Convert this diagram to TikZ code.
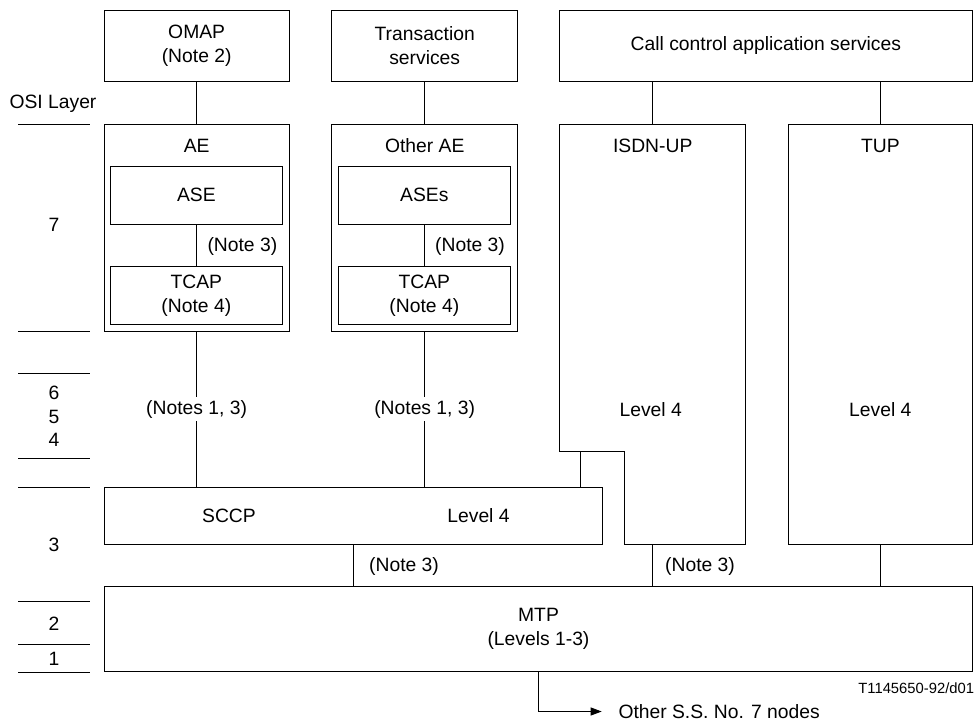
\documentclass[tikz,border=0pt]{standalone}
\usepackage{fontspec}
\setmainfont{Liberation Sans}
\usetikzlibrary{arrows.meta}
\newcommand\mainfs{\fontsize{19.3pt}{24pt}\selectfont}
\newcommand\smallfs{\fontsize{14.8pt}{17pt}\selectfont}
\tikzset{
  box/.style={draw, line width=0.9pt, inner sep=0pt, align=center, font=\mainfs},
  lbl/.style={inner sep=0pt, align=center, font=\mainfs},
  conn/.style={line width=1.2pt},
  layerline/.style={line width=0.9pt},
  gaplbl/.style={lbl, fill=white, inner sep=3pt},
}
\begin{document}
\begin{tikzpicture}[x=1pt, y=-1pt]
\useasboundingbox (0,0) rectangle (976,722);

% OSI layer scale on the left
\foreach \yy in {124.3,331,373.3,458.3,487.3,601.7,644.3,672.3}
  \draw[layerline] (18,\yy) -- (90,\yy);
\node[lbl] (osi) at (53,104) {OSI Layer};
\node[lbl] (l7) at (54,225) {7};
\node[lbl] (l6) at (54,393.3) {6};
\node[lbl] (l5) at (54,416.7) {5};
\node[lbl] (l4) at (54,440) {4};
\node[lbl] (l3) at (54,545) {3};
\node[lbl] (l2) at (54,623.3) {2};
\node[lbl] (l1) at (54,659.3) {1};

% Top row: application services
\node[box, minimum width=184.7pt, minimum height=70.3pt] (omap) at (196.65,45.85) {OMAP\\(Note 2)};
\node[box, minimum width=186pt, minimum height=70.3pt] (trans) at (424.7,45.85) {Transaction\\services};
\node[box, minimum width=413.2pt, minimum height=70.3pt] (call) at (765.9,45.85) {Call control application services};

% Application entities
\node[box, minimum width=184.7pt, minimum height=206.7pt] (ae) at (196.65,227.65) {};
\node[lbl] (aelbl) at (196.65,145.7) {AE};
\node[box, minimum width=171.3pt, minimum height=57.3pt] (ase) at (196.35,195.35) {ASE};
\node[box, minimum width=171.3pt, minimum height=57.3pt] (tcapa) at (196.35,295.35) {TCAP\\(Note 4)};

\node[box, minimum width=186pt, minimum height=206.7pt] (oae) at (424.7,227.65) {};
\node[lbl] (oaelbl) at (424.7,145.7) {Other AE};
\node[box, minimum width=171.3pt, minimum height=57.3pt] (ases) at (424.35,195.35) {ASEs};
\node[box, minimum width=171.3pt, minimum height=57.3pt] (tcapb) at (424.35,295.35) {TCAP\\(Note 4)};

% ISDN-UP with its stepped lower-left corner
\draw[line width=0.9pt] (559.3,124.3) -- (745.7,124.3) -- (745.7,544) -- (624.3,544)
  -- (624.3,451.7) -- (559.3,451.7) -- cycle;
\coordinate (isdntop) at (652.7,124.3);
\coordinate (isdnbot) at (652.7,544);
\coordinate (isdnstep) at (580.7,451.7);
\node[lbl] (isdnlbl) at (652.7,145.7) {ISDN-UP};
\node[lbl] (isdnlvl) at (650.7,409.3) {Level 4};

% TUP
\node[box, minimum width=184.7pt, minimum height=419.7pt] (tup) at (880.35,334.15) {};
\node[lbl] (tuplbl) at (880.35,145.7) {TUP};
\node[lbl] (tuplvl) at (880.35,409.3) {Level 4};

% SCCP
\node[box, minimum width=498.4pt, minimum height=56.7pt] (sccp) at (353.5,515.65) {};
\node[lbl] (sccplbl) at (229,516) {SCCP};
\node[lbl] (sccplvl) at (478.5,516) {Level 4};

% MTP
\node[box, minimum width=868.4pt, minimum height=85pt] (mtp) at (538.5,629.2) {MTP\\(Levels 1-3)};

% Connections
\draw[conn] (omap) -- (ae);
\draw[conn] (trans) -- (oae);
\draw[conn] (ase) -- (tcapa);
\draw[conn] (ases) -- (tcapb);
\node[lbl, anchor=west] (n3a) at (207.3,246.7) {(Note 3)};
\node[lbl, anchor=west] (n3b) at (435,246.7) {(Note 3)};

\draw[conn] (ae.south) -- node[gaplbl] (n13a) {(Notes 1, 3)} (ae.south |- sccp.north);
\draw[conn] (oae.south) -- node[gaplbl] (n13b) {(Notes 1, 3)} (oae.south |- sccp.north);

\draw[conn] (call.south -| isdntop) -- (isdntop);
\draw[conn] (call.south -| tup.north) -- (tup.north);
\draw[conn] (isdnstep) -- (isdnstep |- sccp.north);

\draw[conn] (sccp.south) -- (sccp.south |- mtp.north);
\draw[conn] (isdnbot) -- (isdnbot |- mtp.north);
\draw[conn] (tup.south) -- (tup.south |- mtp.north);
\node[lbl, anchor=west] (n3c) at (369,566) {(Note 3)};
\node[lbl, anchor=west] (n3d) at (665,566) {(Note 3)};

% Link to other signalling nodes
\node[lbl, anchor=west] (other) at (618.3,711.5) {Other S.S. No. 7 nodes};
\draw[line width=0.9pt, -{Triangle[length=11pt,width=8pt]}]
  (mtp.south) |- ([xshift=-16.6pt]other.west);

\node[inner sep=0pt, font=\smallfs, anchor=east] (ref) at (974.3,688.3) {T1145650-92/d01};
\end{tikzpicture}
\end{document}
